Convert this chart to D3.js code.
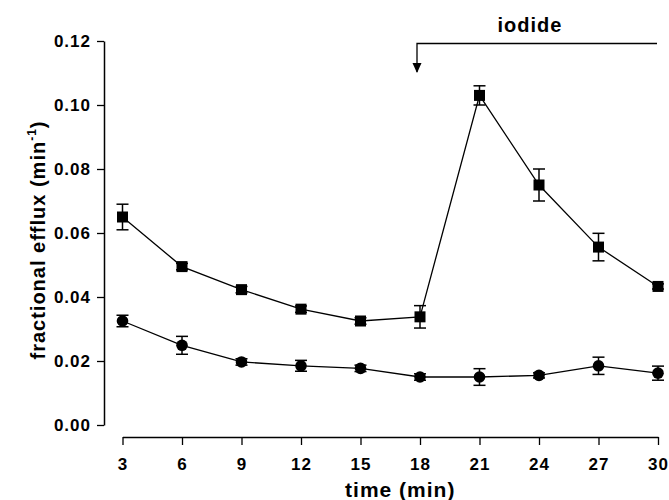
<!DOCTYPE html>
<html>
<head>
<meta charset="utf-8">
<script src="https://cdn.jsdelivr.net/npm/d3@7"></script>
<style>
  body { margin: 0; background: #fff; }
  text { font-family: "Liberation Sans", Arial, sans-serif; font-weight: bold; fill: #000; }
</style>
</head>
<body>
<script>
const width = 669;
const height = 500;

// time points (min)
const times = [3, 6, 9, 12, 15, 18, 21, 24, 27, 30];
// upper series (squares)
const squareVals = [0.065, 0.0495, 0.0423, 0.0362, 0.0325, 0.0338, 0.103, 0.075, 0.0556, 0.0433];
const squareErr = [0.004, 0.001, 0.001, 0.001, 0.001, 0.0035, 0.003, 0.005, 0.0043, 0.0008];
// lower series (circles)
const circleVals = [0.0325, 0.0249, 0.0197, 0.0185, 0.0177, 0.0150, 0.0150, 0.0155, 0.0185, 0.0162];
const circleErr = [0.0018, 0.0028, 0.001, 0.0017, 0.001, 0.001, 0.0026, 0.0008, 0.0027, 0.0022];
const yTicks = [0, 0.02, 0.04, 0.06, 0.08, 0.10, 0.12];
const iodideStart = 18;

const svg = d3.select("body").append("svg")
    .attr("width", width)
    .attr("height", height);

const x = d3.scaleLinear().domain([3, 30]).range([122.5, 658]);
const y = d3.scaleLinear().domain([0, 0.12]).range([425, 41]);

// y axis
const yAxis = svg.append("g")
    .attr("transform", "translate(104,0)")
    .call(d3.axisLeft(y).tickValues(yTicks).tickFormat(d3.format(".2f")).tickSize(7).tickSizeOuter(0));
yAxis.select(".domain").attr("stroke-width", 1.5);
yAxis.selectAll(".tick line").attr("stroke-width", 1.3);
yAxis.selectAll(".tick text").attr("x", -13).attr("font-size", 17).attr("dy", "0.35em");

// x axis
const xAxis = svg.append("g")
    .attr("transform", "translate(0,437)")
    .call(d3.axisBottom(x).tickValues(times).tickSize(8).tickSizeOuter(0));
xAxis.select(".domain").attr("stroke-width", 1.5);
xAxis.selectAll(".tick line").attr("stroke-width", 1.3);
xAxis.selectAll(".tick text").attr("y", 21).attr("font-size", 17);

svg.selectAll(".tick text")
    .style("font-family", "'Liberation Sans', Arial, sans-serif")
    .style("font-weight", "bold")
    .style("letter-spacing", "1px");

// axis titles
svg.append("text")
    .attr("x", (x(3) + x(30)) / 2 + 10)
    .attr("y", 497)
    .attr("text-anchor", "middle")
    .attr("font-size", 21)
    .style("letter-spacing", "1px")
    .text("time (min)");

const yt = svg.append("text")
    .attr("transform", "translate(45,240) rotate(-90)")
    .attr("text-anchor", "middle")
    .attr("font-size", 20)
    .style("letter-spacing", "1px");
yt.append("tspan").text("fractional efflux (min");
yt.append("tspan").attr("font-size", 12).attr("dy", -9).text("-1");
yt.append("tspan").attr("dy", 9).text(")");

// iodide arrow
svg.append("text")
    .attr("x", 530)
    .attr("y", 32)
    .attr("text-anchor", "middle")
    .attr("font-size", 20)
    .style("letter-spacing", "1px")
    .text("iodide");

const ax = x(iodideStart) - 3;
svg.append("path")
    .attr("d", `M${ax},${72} V43.5 H657`)
    .attr("fill", "none")
    .attr("stroke", "#000")
    .attr("stroke-width", 1.3);
svg.append("path")
    .attr("d", `M${ax - 4.5},63 L${ax + 4.5},63 L${ax},73 Z`)
    .attr("fill", "#000");

function drawSeries(vals, errs, shape) {
    const pts = times.map((t, i) => ({ t: t, v: vals[i], e: errs[i] }));
    const line = d3.line().x(d => x(d.t)).y(d => y(d.v));
    svg.append("path")
        .datum(pts)
        .attr("d", line)
        .attr("fill", "none")
        .attr("stroke", "#000")
        .attr("stroke-width", 1.3);

    const eb = svg.append("g").attr("stroke", "#000").attr("stroke-width", 1.5);
    eb.selectAll(".v").data(pts).enter().append("line")
        .attr("x1", d => x(d.t)).attr("x2", d => x(d.t))
        .attr("y1", d => y(d.v - d.e)).attr("y2", d => y(d.v + d.e));
    eb.selectAll(".top").data(pts).enter().append("line")
        .attr("x1", d => x(d.t) - 6).attr("x2", d => x(d.t) + 6)
        .attr("y1", d => y(d.v + d.e)).attr("y2", d => y(d.v + d.e));
    eb.selectAll(".bot").data(pts).enter().append("line")
        .attr("x1", d => x(d.t) - 6).attr("x2", d => x(d.t) + 6)
        .attr("y1", d => y(d.v - d.e)).attr("y2", d => y(d.v - d.e));

    if (shape === "square") {
        svg.selectAll(null).data(pts).enter().append("rect")
            .attr("x", d => x(d.t) - 5.5)
            .attr("y", d => y(d.v) - 5.5)
            .attr("width", 11)
            .attr("height", 11)
            .attr("fill", "#000");
    } else {
        svg.selectAll(null).data(pts).enter().append("circle")
            .attr("cx", d => x(d.t))
            .attr("cy", d => y(d.v))
            .attr("r", 5.8)
            .attr("fill", "#000");
    }
}

drawSeries(squareVals, squareErr, "square");
drawSeries(circleVals, circleErr, "circle");
</script>
</body>
</html>
